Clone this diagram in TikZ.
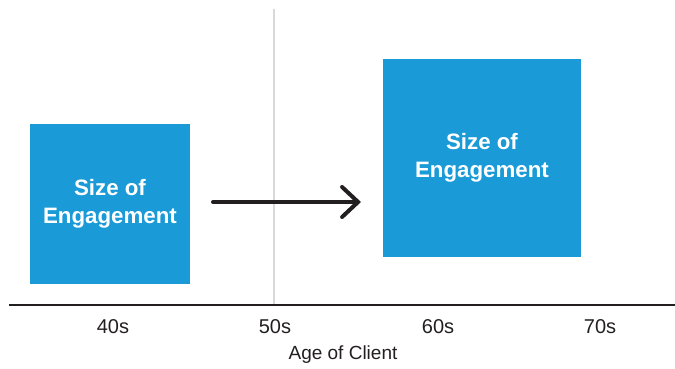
\documentclass[tikz,border=0pt]{standalone}
\usepackage{fontspec}
\setmainfont{Liberation Sans}
\usetikzlibrary{arrows.meta}
\definecolor{boxblue}{RGB}{26,154,214}
\definecolor{axisgray}{RGB}{217,217,217}
\definecolor{inkblack}{RGB}{35,31,32}
\tikzset{
  engbox/.style={fill=boxblue, draw=none, text=white, font=\bfseries\fontsize{22.3}{28}\selectfont, align=center, inner sep=0pt},
  ticklabel/.style={text=inkblack, font=\fontsize{20}{22}\selectfont, inner sep=0pt, anchor=center},
  axislabel/.style={text=inkblack, font=\fontsize{19}{22}\selectfont, inner sep=0pt, anchor=center},
}
\begin{document}
\begin{tikzpicture}[x=1pt,y=-1pt]
\useasboundingbox (0,0) rectangle (675,368);
% gray vertical divider
\coordinate (vtop) at (274,9);
\coordinate (vbot) at (274,305);
\draw[axisgray, line width=2pt] (vtop) -- (vbot);
% axis
\coordinate (axl) at (9,305);
\coordinate (axr) at (675,305);
\draw[inkblack, line width=2.6pt] (axl) -- (axr);
% boxes
\node[engbox, minimum width=160pt, minimum height=160pt] (b1) at (110,204) {Size of\\Engagement};
\node[engbox, minimum width=198pt, minimum height=198pt] (b2) at (482,158) {Size of\\Engagement};
% arrow
\coordinate (as) at (213,202);
\coordinate (ae) at (361,202);
\draw[inkblack, line width=4pt, line cap=round, -{Straight Barb[length=16pt, width=30pt, line cap=round]}] (as) -- (ae);
% tick labels
\node[ticklabel] (t40) at (113,327) {40s};
\node[ticklabel] (t50) at (275,327) {50s};
\node[ticklabel] (t60) at (438,327) {60s};
\node[ticklabel] (t70) at (600,327) {70s};
\node[axislabel] (xlab) at (343,355) {Age of Client};
\end{tikzpicture}
\end{document}
